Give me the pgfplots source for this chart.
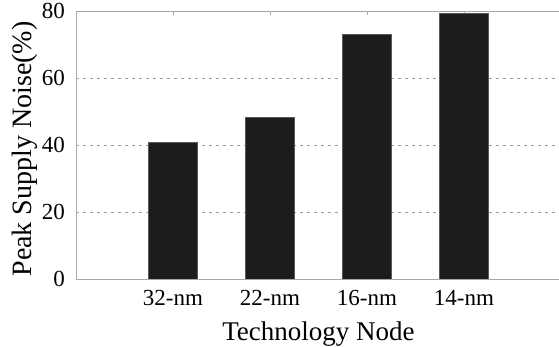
\documentclass[border=0pt]{standalone}
\usepackage{pgfplots}
\pgfplotsset{compat=1.18}
\usepackage{fontspec}
\setmainfont{Liberation Serif}
\definecolor{axgray}{HTML}{A8A8A8}
\definecolor{gridgray}{HTML}{9A9A9A}
\definecolor{barfill}{HTML}{1C1C1C}
\begin{document}
\begin{tikzpicture}
\begin{axis}[
  at={(0,0)}, anchor=south west,
  scale only axis, width=483pt, height=268pt,
  xmin=0, xmax=4.98, ymin=0, ymax=80,
  axis y line*=left,
  axis line style={axgray, line width=0.8pt},
  xtick={1,2,3,4}, xticklabels={32-nm,22-nm,16-nm,14-nm},
  ytick={0,20,40,60,80},
  major tick length=4pt,
  xtick style={axgray, line width=0.8pt},
  ytick style={draw=none},
  ymajorgrids,
  grid style={gridgray, line width=0.7pt, dash pattern=on 3pt off 4pt},
  /pgf/number format/assume math mode=true,
  tick label style={font=\fontsize{23}{27}\selectfont, inner sep=0pt},
  yticklabel style={xshift=-11pt},
  xticklabel style={yshift=-11pt},
  xlabel={Technology Node},
  ylabel={Peak Supply Noise(\%)},
  label style={font=\fontsize{27}{32}\selectfont, inner sep=0pt},
  xlabel style={at={(axis description cs:0.502,0)}, anchor=north, yshift=-43pt},
  ylabel style={font=\fontsize{28}{32}\selectfont, at={(axis description cs:-0.1325,0.485)}, anchor=north},
]
\addplot[ybar, bar width=49pt, fill=barfill, draw=black!65, line width=0.6pt]
  coordinates {(1,40.7) (2,48.3) (3,73.0) (4,79.3)};
\end{axis}
\pgfresetboundingbox
\path[use as bounding box] (-76pt,-68pt) rectangle (483pt,279pt);
\end{tikzpicture}
\end{document}
